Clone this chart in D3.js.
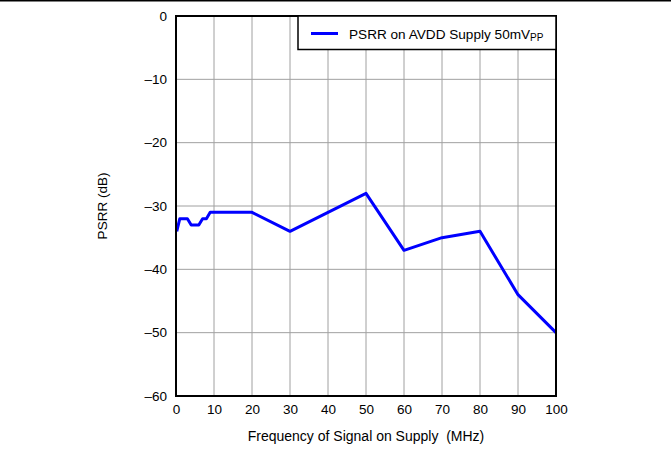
<!DOCTYPE html>
<html><head><meta charset="utf-8">
<script src="https://cdn.jsdelivr.net/npm/d3@7"></script>
<style>body{margin:0;background:#fff}svg{display:block}text{font-family:"Liberation Sans",Arial,sans-serif;fill:#000}</style>
</head><body>
<script>
const freqMHz = [0.2, 1, 3, 4, 6, 7, 8, 9, 20, 30, 40, 50, 60, 70, 80, 90, 100];
const psrrDb  = [-34, -32, -32, -33, -33, -32, -32, -31, -31, -34, -31, -28, -37, -35, -34, -44, -50];
const xTicks = [0,10,20,30,40,50,60,70,80,90,100];
const yTicks = [0,-10,-20,-30,-40,-50,-60];
const seriesName = "PSRR on AVDD Supply 50mV";
const seriesSub = "PP";

const W = 671, H = 450;
const svg = d3.select("body").append("svg").attr("width", W).attr("height", H);
const L = 176, R = 556, T = 16, B = 396;
const x = d3.scaleLinear().domain([0,100]).range([L,R]);
const y = d3.scaleLinear().domain([-60,0]).range([B,T]);

// top rule
svg.append("line").attr("x1",0).attr("x2",W).attr("y1",0.75).attr("y2",0.75).attr("stroke","#000").attr("stroke-width",1.5);

// grid
svg.append("g").selectAll("line").data(xTicks.slice(1,-1)).join("line")
  .attr("x1",d=>x(d)).attr("x2",d=>x(d)).attr("y1",T).attr("y2",B).attr("stroke","#a0a0a0").attr("stroke-width",1);
svg.append("g").selectAll("line").data(yTicks.slice(1,-1)).join("line")
  .attr("x1",L).attr("x2",R).attr("y1",d=>y(d)).attr("y2",d=>y(d)).attr("stroke","#a0a0a0").attr("stroke-width",1);

const fmt = d => d < 0 ? "\u2013" + Math.abs(d) : String(d);
const xa = svg.append("g").attr("transform",`translate(0,${B})`)
  .call(d3.axisBottom(x).tickValues(xTicks).tickFormat(fmt).tickSize(0).tickPadding(8));
const ya = svg.append("g").attr("transform",`translate(${L},0)`)
  .call(d3.axisLeft(y).tickValues(yTicks).tickFormat(fmt).tickSize(0).tickPadding(9));
[xa,ya].forEach(g=>{g.select(".domain").remove(); g.selectAll("text").attr("font-size",13.5).attr("font-family","Liberation Sans, Arial, sans-serif").attr("fill","#000");});

// line
svg.append("path").datum(freqMHz.map((f,i)=>[f,psrrDb[i]]))
  .attr("d", d3.line().x(d=>x(d[0])).y(d=>y(d[1])))
  .attr("fill","none").attr("stroke","#0000ff").attr("stroke-width",3).attr("stroke-linejoin","round");

// frame
svg.append("rect").attr("x",L).attr("y",T).attr("width",R-L).attr("height",B-T)
  .attr("fill","none").attr("stroke","#000").attr("stroke-width",2);

// legend
const lg = svg.append("g");
lg.append("rect").attr("x",298).attr("y",T).attr("width",R-298).attr("height",33.5)
  .attr("fill","#fff").attr("stroke","#000").attr("stroke-width",1.5);
lg.append("line").attr("x1",311).attr("x2",338).attr("y1",33.5).attr("y2",33.5).attr("stroke","#0000ff").attr("stroke-width",3);
const lt = lg.append("text").attr("x",349).attr("y",38.5).attr("font-size",13.6);
lt.append("tspan").text(seriesName);
lt.append("tspan").attr("font-size",10).attr("dy",2).text(seriesSub);

// axis titles
svg.append("text").attr("x",366).attr("y",441).attr("text-anchor","middle").attr("font-size",14)
  .text("Frequency of Signal on Supply  (MHz)").style("white-space","pre");
svg.append("text").attr("transform",`translate(107,${(T+B)/2}) rotate(-90)`).attr("text-anchor","middle").attr("font-size",13.5)
  .text("PSRR (dB)");
</script>
</body></html>
